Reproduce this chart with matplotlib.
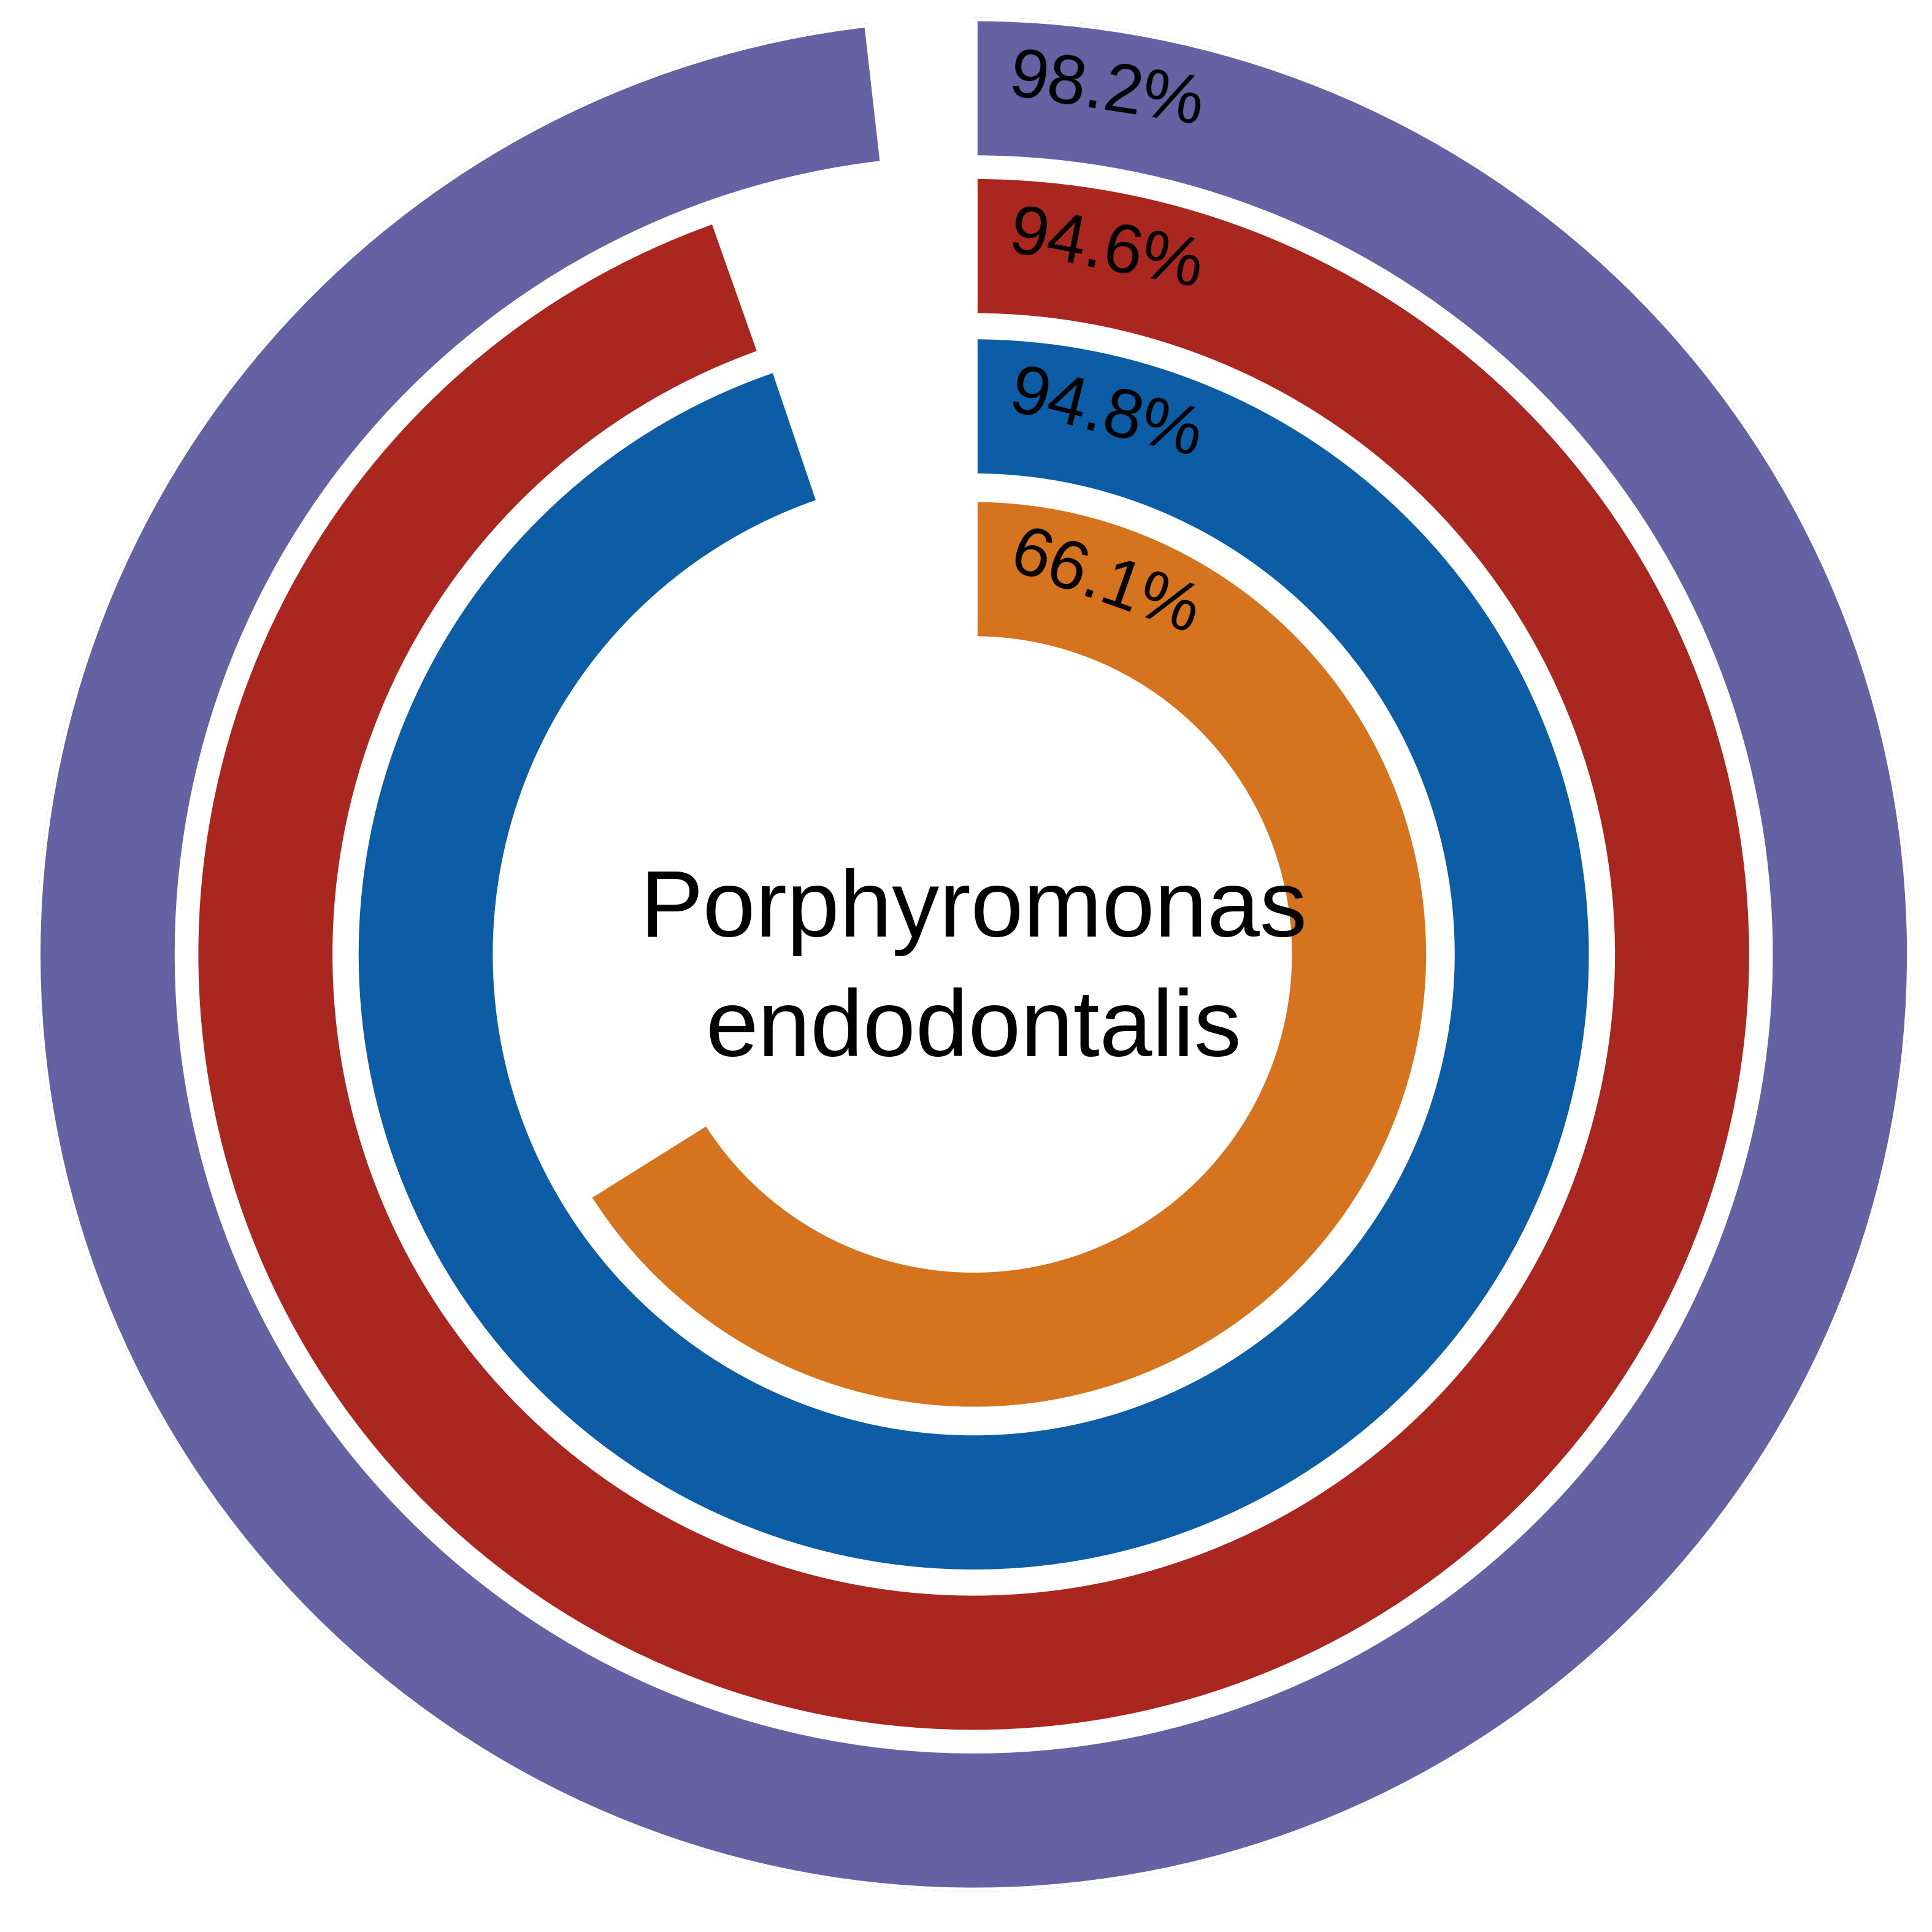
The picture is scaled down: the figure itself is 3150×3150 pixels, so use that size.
import numpy as np
import matplotlib
matplotlib.use("Agg")
import matplotlib.pyplot as plt

labels = ["Orange", "Blue", "Red", "Purple"]
values = [66.1, 94.8, 94.6, 98.2]
colors = ["#D6731E", "#0D5DA6", "#AA2720", "#6561A2"]
center_text = "Porphyromonas\nendodontalis"

plt.rcParams['font.family'] = ['Liberation Sans', 'DejaVu Sans']
fig = plt.figure(figsize=(10.5, 10.5), dpi=300)
R = 0.485
ax = fig.add_axes([0.504 - R, 0.506 - R, 2 * R, 2 * R], projection='polar')
ax.set_theta_zero_location('N')
ax.set_theta_direction(-1)
ax.set_ylim(0, 760)
ax.axis('off')

inner = [255, 387, 517, 645]
width = 115
for v, c, r0 in zip(values, colors, inner):
    th = v / 100 * 2 * np.pi
    ax.bar(0, width, width=th, bottom=r0, align='edge', color=c,
           edgecolor='white', linewidth=3)
    rm = r0 + width / 2 + 5
    ang = 108 / rm
    ax.text(ang, rm, f"{v}%", ha='center', va='center', fontsize=27,
            rotation=-np.degrees(ang), rotation_mode='anchor')

fig.text(0.504, 0.497, center_text, ha='center', va='center', fontsize=37,
         linespacing=1.45)
fig.savefig("out.png", dpi=300, facecolor='white')
